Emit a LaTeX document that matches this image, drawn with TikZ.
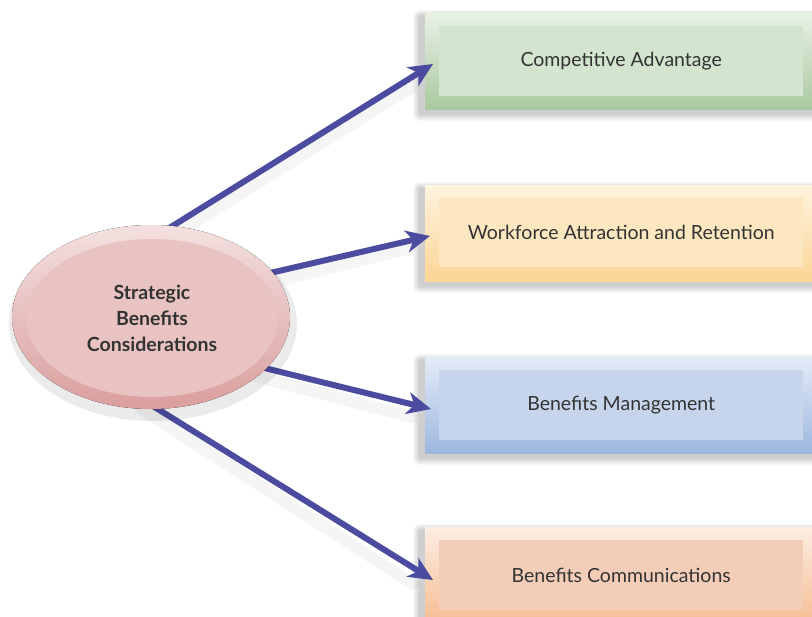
\documentclass[tikz,border=0pt]{standalone}
\usepackage{fontspec}
\setmainfont{Lato}
\usetikzlibrary{arrows.meta,calc,shapes.geometric}
\definecolor{arrowblue}{HTML}{4B4BA0}
\definecolor{gIn}{HTML}{D3E4CF}\definecolor{gTop}{HTML}{E9F1E6}\definecolor{gBot}{HTML}{A9C89F}
\definecolor{yIn}{HTML}{FDE7C0}\definecolor{yTop}{HTML}{FEF3DE}\definecolor{yBot}{HTML}{FBD596}
\definecolor{bIn}{HTML}{C6D5EC}\definecolor{bTop}{HTML}{E3EBF7}\definecolor{bBot}{HTML}{9DB7DF}
\definecolor{oIn}{HTML}{F4CDB9}\definecolor{oTop}{HTML}{FCEDE3}\definecolor{oBot}{HTML}{F6BD92}
\definecolor{eIn}{HTML}{E9C3C1}\definecolor{eTop}{HTML}{F4E0E0}\definecolor{eBot}{HTML}{D99E9D}
\definecolor{txt}{HTML}{333333}
\newcommand\bxshadow[1]{%
  \foreach \r in {1,...,7}{\fill[black,opacity=0.028,rounded corners=\r pt] (420-\r,#1+4-\r) rectangle (830,#1+101+\r);}}
\tikzset{
  outerbox/.style={minimum width=400pt, minimum height=96pt, inner sep=0pt, anchor=north west},
  innerbox/.style={minimum width=364pt, minimum height=70pt, inner sep=0pt, anchor=north west,
     font=\fontsize{19.5}{22}\selectfont, text=txt},
  arr/.style={draw=arrowblue, line width=6pt, -{Stealth[length=24pt,width=22pt,inset=7pt]}},
  arrshadow/.style={draw=black!35, line width=12pt, opacity=0.10, line cap=round},
}
\begin{document}
\begin{tikzpicture}[x=1pt,y=-1pt]
\clip (0,0) rectangle (812,617);
\fill[white] (0,0) rectangle (812,617);
% shadows of boxes
\bxshadow{13}
\bxshadow{185}
\bxshadow{357}
\bxshadow{527}
% boxes
\node[outerbox, top color=gTop, bottom color=gBot] (o1) at (425,13) {};
\node[innerbox, fill=gIn] (b1) at (439,26) {Competitive Advantage};
\node[outerbox, top color=yTop, bottom color=yBot] (o2) at (425,185) {};
\node[innerbox, fill=yIn] (b2) at (439,197) {Workforce Attraction and Retention};
\node[outerbox, top color=bTop, bottom color=bBot] (o3) at (425,357) {};
\node[innerbox, fill=bIn] (b3) at (439,370) {Benefits Management};
\node[outerbox, top color=oTop, bottom color=oBot] (o4) at (425,527) {};
\node[innerbox, fill=oIn] (b4) at (439,540) {Benefits Communications};
% arrow end points
\coordinate (t1) at (433,64);
\coordinate (t2) at (430,236);
\coordinate (t3) at (431,409);
\coordinate (t4) at (433,580);
\coordinate (s1) at (150,240);
\coordinate (s2) at (240,280);
\coordinate (s3) at (240,362);
\coordinate (s4) at (140,398);
% arrow shadows
\draw[arrshadow] ($(s1)+(0,10)$) -- ($(t1)+(-20,22)$);
\draw[arrshadow] ($(s2)+(0,10)$) -- ($(t2)+(-20,12)$);
\draw[arrshadow] ($(s3)+(0,10)$) -- ($(t3)+(-20,8)$);
\draw[arrshadow] ($(s4)+(0,10)$) -- ($(t4)+(-20,4)$);
% arrows
\draw[arr] (s1) -- (t1);
\draw[arr] (s2) -- (t2);
\draw[arr] (s3) -- (t3);
\draw[arr] (s4) -- (t4);
% ellipse
\fill[black, opacity=0.08] (153,324) ellipse [x radius=144pt, y radius=97pt];
\fill[top color=eTop, bottom color=eBot] (151,317) ellipse [x radius=139pt, y radius=92pt];
\node[ellipse, fill=eIn, minimum width=252pt, minimum height=158pt, inner sep=0pt] (ell) at (152,318) {};
\node[align=center, font=\bfseries\fontsize{19.5}{26}\selectfont, text=txt] (lbl) at (ell.center) {Strategic\\Benefits\\Considerations};
\end{tikzpicture}
\end{document}
